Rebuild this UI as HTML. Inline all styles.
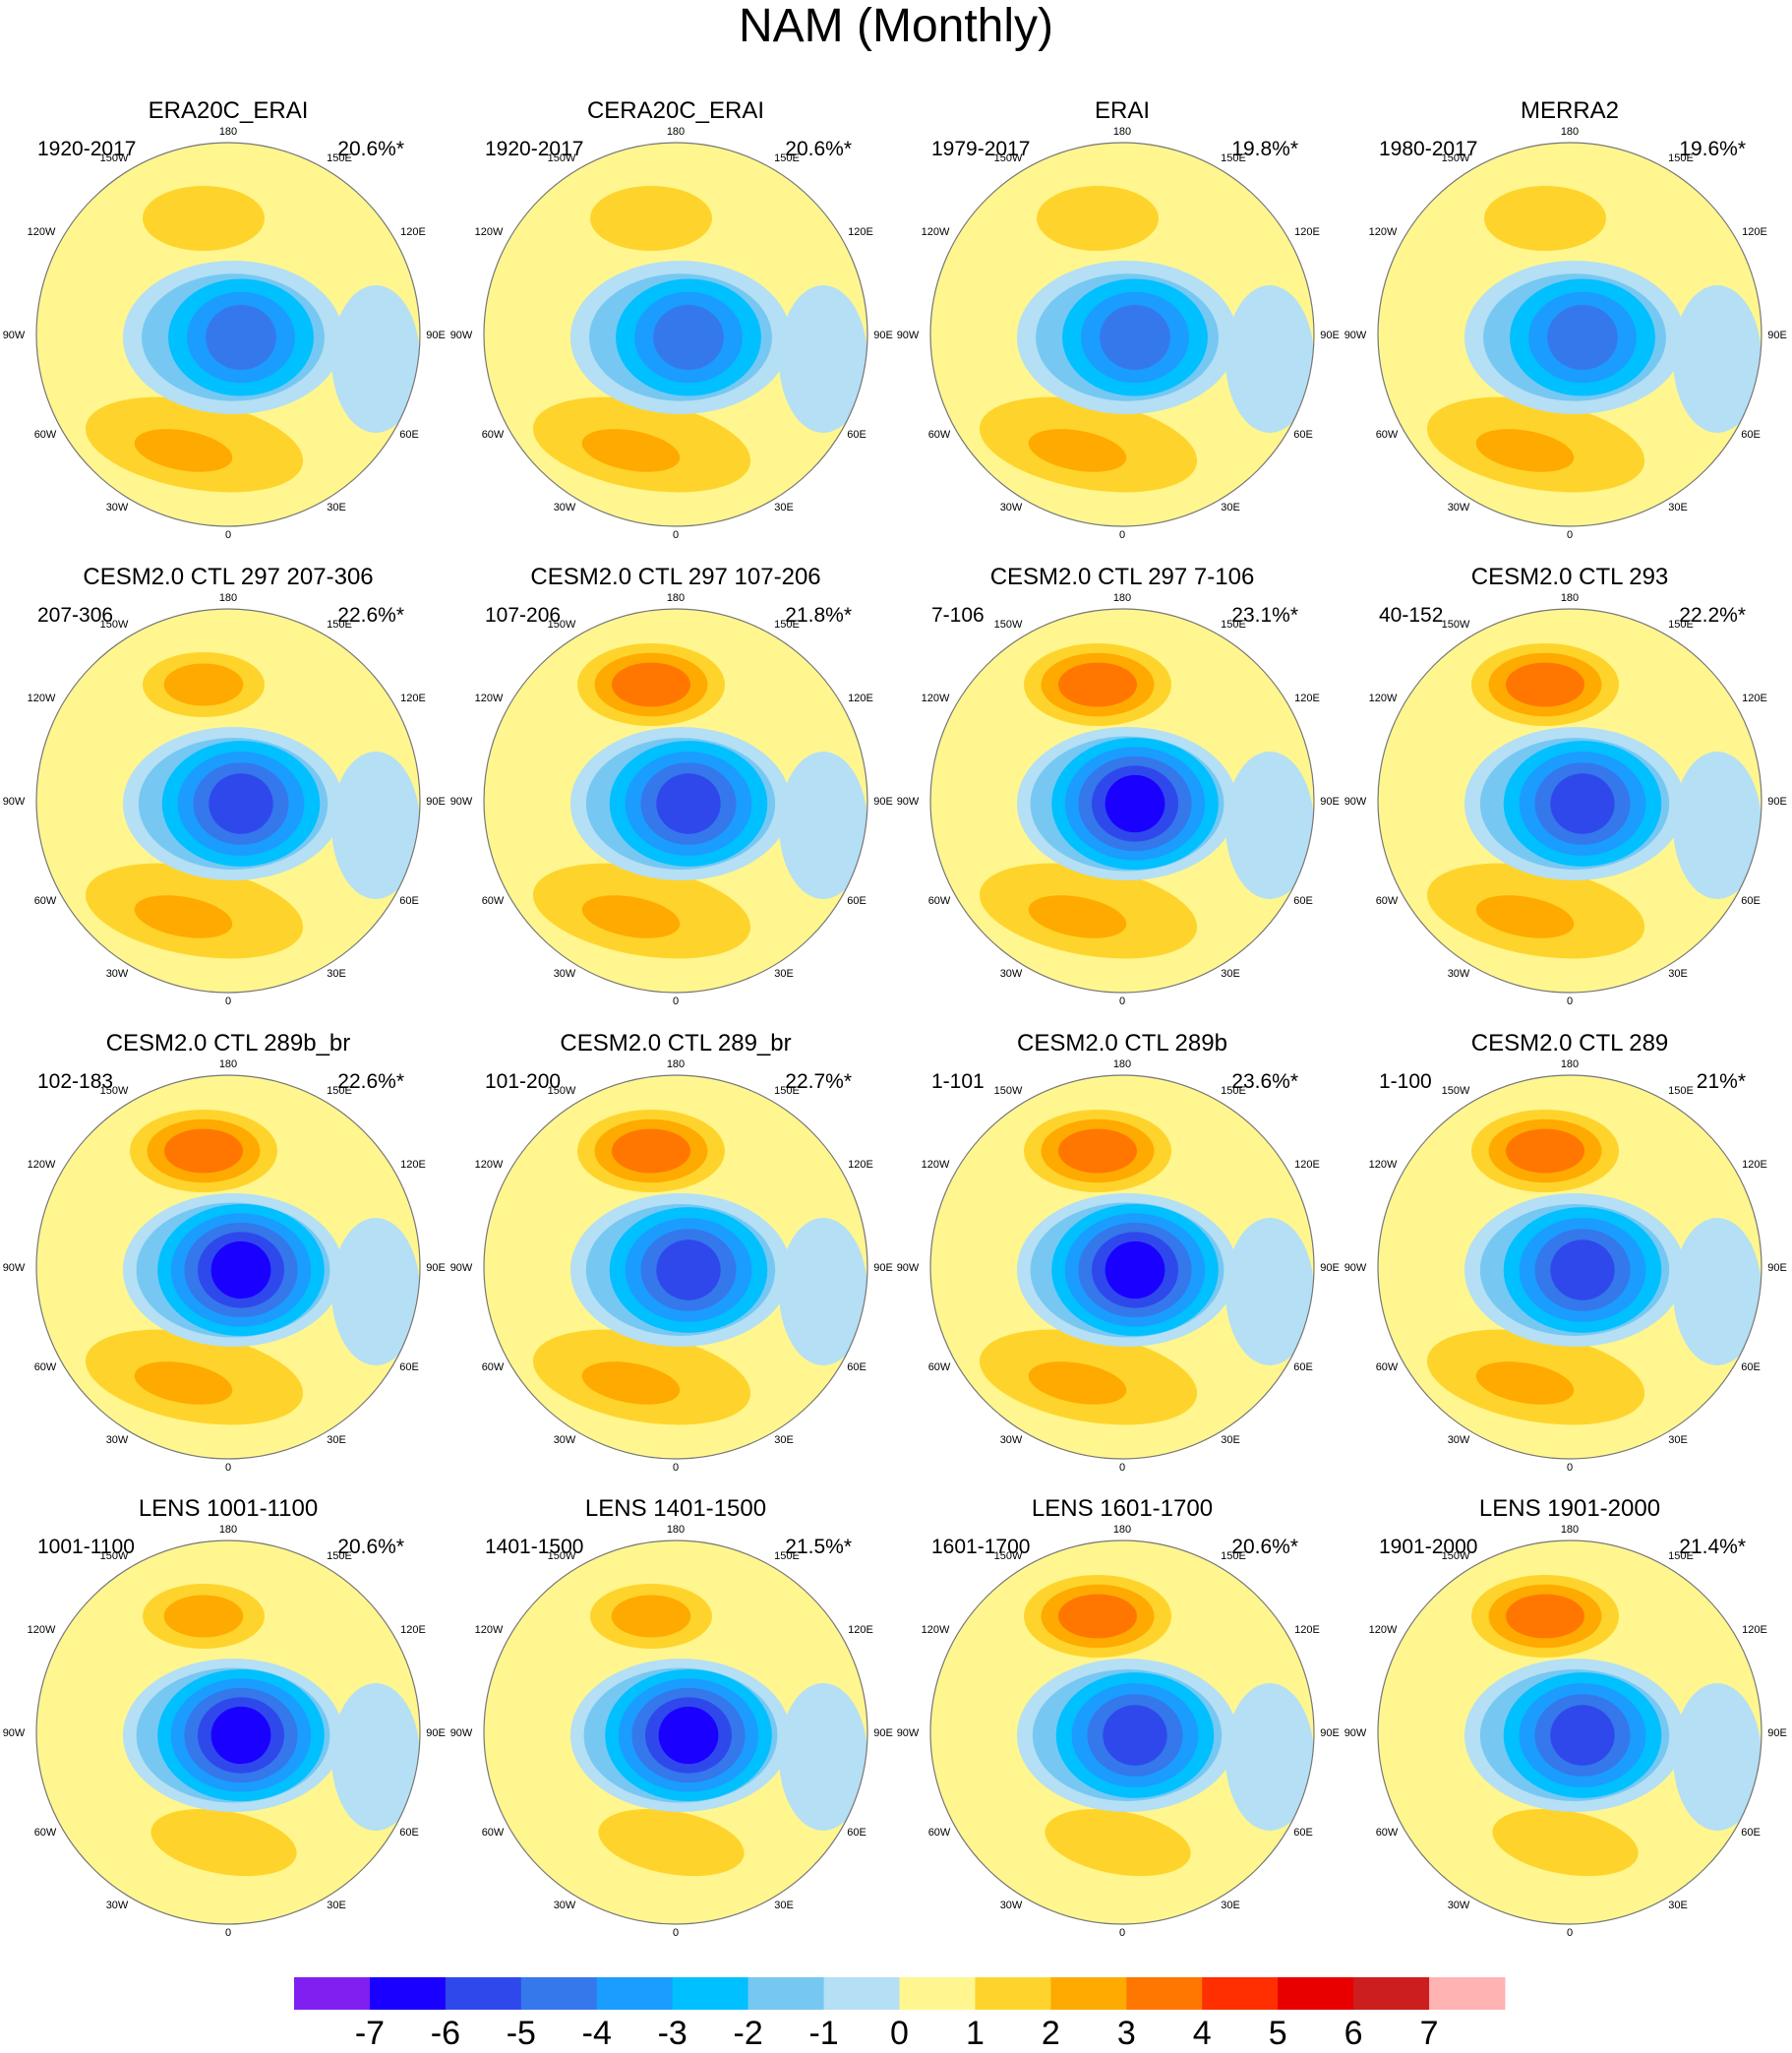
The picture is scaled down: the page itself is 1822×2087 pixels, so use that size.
<!DOCTYPE html>
<html><head><meta charset="utf-8"><style>
html,body{margin:0;padding:0;background:#fff;}
body{width:1822px;height:2082px;overflow:hidden;font-family:"Liberation Sans",sans-serif;}
</style></head><body>
<svg id="fig" width="1822" height="2082" viewBox="0 0 1822 2082" xmlns="http://www.w3.org/2000/svg" font-family="Liberation Sans, sans-serif">
<text x="911" y="42" font-size="48" text-anchor="middle">NAM (Monthly)</text>
<g id="panels"></g>
<g id="cbar"></g>
</svg>
<script>
const titles=["ERA20C_ERAI","CERA20C_ERAI","ERAI","MERRA2","CESM2.0 CTL 297 207-306","CESM2.0 CTL 297 107-206","CESM2.0 CTL 297 7-106","CESM2.0 CTL 293","CESM2.0 CTL 289b_br","CESM2.0 CTL 289_br","CESM2.0 CTL 289b","CESM2.0 CTL 289","LENS 1001-1100","LENS 1401-1500","LENS 1601-1700","LENS 1901-2000"];
const periods=["1920-2017","1920-2017","1979-2017","1980-2017","207-306","107-206","7-106","40-152","102-183","101-200","1-101","1-100","1001-1100","1401-1500","1601-1700","1901-2000"];
const pcts=["20.6%*","20.6%*","19.8%*","19.6%*","22.6%*","21.8%*","23.1%*","22.2%*","22.6%*","22.7%*","23.6%*","21%*","20.6%*","21.5%*","20.6%*","21.4%*"];
const polarMin=[-5,-5,-5,-5,-6,-6,-7,-6,-7,-6,-7,-6,-7,-7,-6,-6];
const pacificMax=[2,2,2,2,3,4,4,4,4,4,4,4,3,3,4,4];
const atlanticMax=[3,3,3,3,3,3,3,3,3,3,3,3,2,2,2,2];
const levels=[-7,-6,-5,-4,-3,-2,-1,0,1,2,3,4,5,6,7];
const colors=["#8020f0","#1a00ff","#2f48ec","#3478ec","#1b9cff","#00c0ff","#76c8f2","#b4dff4","#fff68f","#fed42c","#ffaa00","#ff7700","#ff2f00","#e80000","#cc1e1e","#ffb3b3"];
const NS="http://www.w3.org/2000/svg";
const cx0=[232,687,1141,1596], cy0=[340,814,1288,1761], R=195;
const panels=document.getElementById('panels');
function mk(tag,attrs,parent){const e=document.createElementNS(NS,tag);for(const k in attrs)e.setAttribute(k,attrs[k]);parent.appendChild(e);return e;}
const lonLabels=[["180",0,-203],["150W",-116,-176],["150E",113,-176],["120W",-190,-101],["120E",188,-101],["90W",-218,4],["90E",211,4],["60W",-186,105],["60E",184,105],["30W",-113,179],["30E",110,179],["0",0,207]];
for(let i=0;i<16;i++){
  const cx=cx0[i%4], cy=cy0[Math.floor(i/4)];
  const g=mk('g',{},panels);
  
  
  const cid='clip'+i;
  const cp=mk('clipPath',{id:cid},g);
  mk('circle',{cx:cx,cy:cy,r:R},cp);
  const m=mk('g',{'clip-path':'url(#'+cid+')'},g);
  mk('circle',{cx:cx,cy:cy,r:R,fill:colors[8]},m);
  const ext=mk('ellipse',{cx:cx+150,cy:cy+25,rx:45,ry:75,fill:colors[7]},m);
  
  
  const np=pacificMax[i]-1;
  for(let k=1;k<=np;k++){
    const f=1-(k-1)/np*0.7;
    const e=mk('ellipse',{cx:cx-25,cy:cy-118,rx:(np>2?75:62)*f,ry:(np>2?42:33)*f,fill:colors[8+k]},m);
    
    
  }
  const na=atlanticMax[i]-1;
  for(let k=1;k<=na;k++){
    const big=na>=2;
    const f=k===1?1:0.45;
    const ox=big?(k===1?-35:-45):-5;
    const e=mk('ellipse',{cx:cx+ox,cy:cy+(k===1?112:118),rx:(big?112:75)*f,ry:(big?45:32)*f,fill:colors[8+k],transform:'rotate(10 '+(cx+ox)+' '+(cy+115)+')'},m);
    
    
  }
  const nn=-polarMin[i];
  for(let k=1;k<=nn;k++){
    const f=1-(k-1)/nn*0.85;
    const e=mk('ellipse',{cx:cx+5+(k>2?8:0),cy:cy+3,rx:112*f,ry:78*f+(k>2?8:0),fill:colors[8-k]},m);
    
    
  }
  mk('circle',{cx:cx,cy:cy,r:R,fill:'none',stroke:'#777','stroke-width':1.2},g);
  const t=mk('text',{x:cx,y:cy-220,'font-size':24,'text-anchor':'middle'},g);t.textContent=titles[i];
  
  const p=mk('text',{x:cx-194,y:cy-182,'font-size':21},g);p.textContent=periods[i];
  
  const q=mk('text',{x:cx+179,y:cy-182,'font-size':21,'text-anchor':'end'},g);q.textContent=pcts[i];
  
  for(const L of lonLabels){
    const l=mk('text',{x:cx+L[1],y:cy+L[2],'font-size':11,'text-anchor':'middle'},g);l.textContent=L[0];
    
  }
}
const cb=document.getElementById('cbar');


const x0=299,x1=1530,w=(x1-x0)/colors.length;
colors.forEach((c,j)=>{
  const r=mk('rect',{x:x0+j*w,y:2010,width:w+0.5,height:33,fill:c},cb);
  
});
levels.forEach((v,j)=>{
  const t=mk('text',{x:x0+(j+1)*w,y:2078,'font-size':34,'text-anchor':'middle'},cb);t.textContent=v;
  
});
</script>
</body></html>
